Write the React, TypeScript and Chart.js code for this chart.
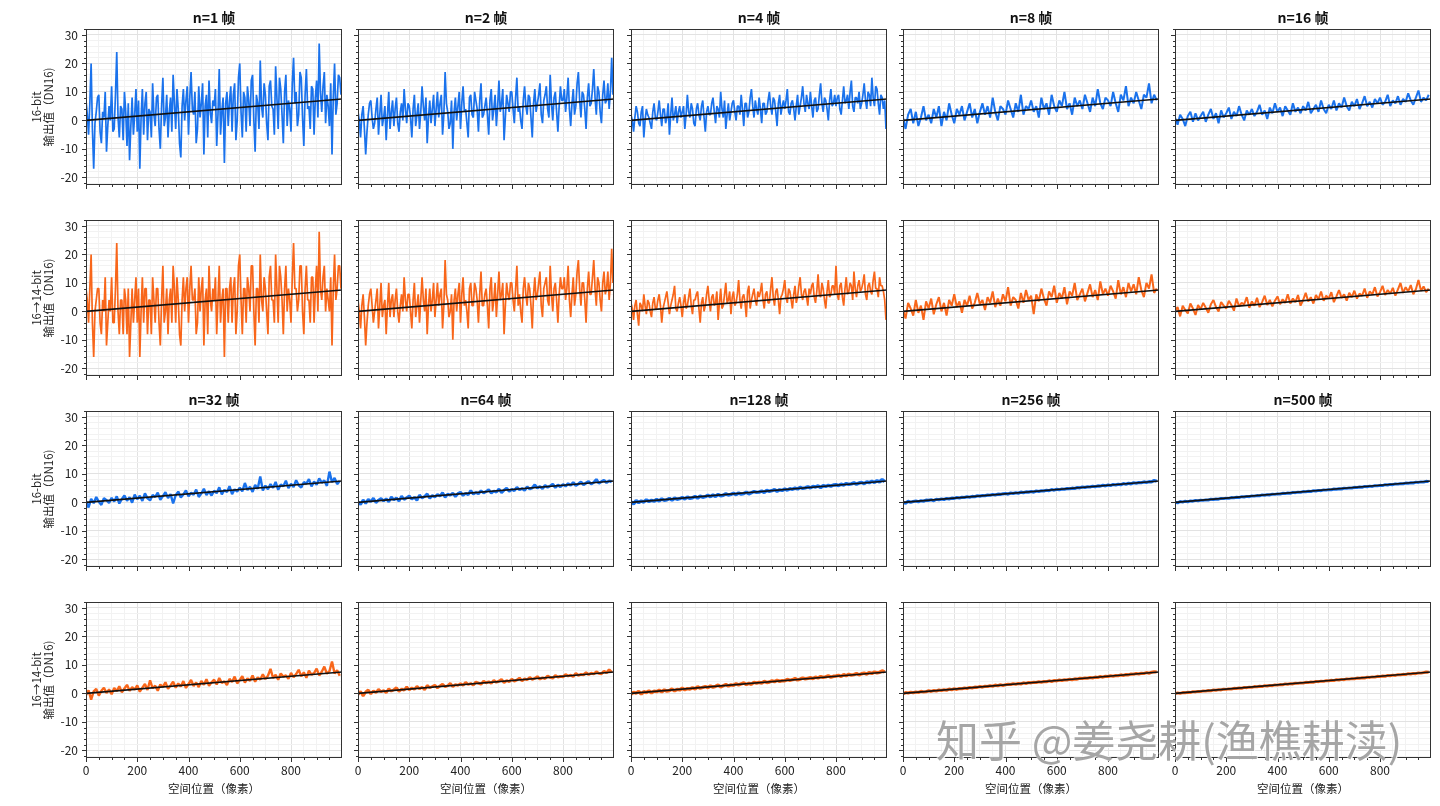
import React, { useEffect, useRef } from "react";
import { Chart, registerables } from "chart.js";

Chart.register(...registerables);

const FONT = "'Noto Sans CJK SC', 'Noto Sans', sans-serif";
const BLUE = "#1a72ec";
const ORANGE = "#f8661a";

// sample positions along the line (pixels): fine for the noisiest panels
const xFine = Array.from({ length: 200 }, (_, i) => i * 5);
const xCoarse = Array.from({ length: 100 }, (_, i) => i * 10);
// fitted line end points
const fitX = [0, 999];
const fitY = [0, 7.5];

const xTickLabels = [0, 200, 400, 600, 800];
const yTickLabels = [-20, -10, 0, 10, 20, 30];
const xMinorTicks = Array.from({ length: 20 }, (_, i) => i * 50);
const yMinorTicks = Array.from({ length: 28 }, (_, i) => -22 + i * 2);

// 16-bit
const blue1 = [
  7, 2, -5, 6, 20, -3, -17, -1, 3, 8, 9, -4, -8, 3, 1, 10, -11, -2, 5, 0,
  12, -4, -3, 9, 24, 1, -6, 5, 4, -7, 10, 3, -9, 6, -14, -2, 8, -5, 2, 11,
  -4, 7, -17, 1, 11, -5, 6, 10, -7, 4, 3, -6, 13, 2, -2, 8, 9, -3, -10, 5,
  15, -2, 1, 9, -6, 3, 8, -4, 16, 6, -3, 11, 4, -8, -13, 5, 11, 0, 7, 12,
  -5, 8, 17, 4, 2, 10, -8, -3, 12, 1, 6, 13, -12, 5, 9, -6, 14, 3, -1, 7,
  5, 11, -9, 2, 18, -5, 3, 8, -15, 6, 10, -2, 7, 12, -4, 9, 13, -7, 0, 15,
  20, 3, -6, 10, 8, -4, 12, 7, -2, 14, 16, 0, -11, 9, 6, -3, 21, 5, 1, 13,
  9, -1, -7, 12, 14, 5, 4, -5, 19, 8, -3, 15, 11, 2, -8, 10, 16, -2, 7, 4,
  -4, 13, 22, 6, 10, -2, 2, 17, 15, 1, -9, 9, 18, 4, 5, -3, 12, 11, -5, 8,
  14, 1, 27, 10, 3, 12, 17, -1, 9, 5, -2, 13, -12, 8, 20, 2, 6, 16, 15, 9,
];
const blue2 = [
  3, 0, -6, 2, 5, -3, -12, -4, 2, 6, 7, 1, -3, -1, 4, 8, -5, 2, 9, -2,
  1, 5, -7, 2, 10, -3, 3, 7, -2, 4, 8, -1, -4, 3, 6, 0, 11, 4, -1, 6,
  5, 1, -6, 4, 9, -2, 2, 6, -3, 3, 12, 5, 0, 8, -8, 1, 7, -1, 4, 9,
  -2, 4, 10, 1, 6, 9, -5, 2, 17, 6, 3, -3, -1, 7, -10, 3, 8, 0, 5, 10,
  -3, 6, 12, 3, 4, -1, -6, 8, 9, 2, 1, 10, 7, 4, -4, 7, 13, 1, 2, 5,
  8, 2, -5, 7, 11, 0, 4, 9, -2, 5, 14, 3, 6, 11, -7, 1, 9, 6, 3, 10,
  10, 4, -1, 8, 15, 3, 5, 0, -3, 7, 12, 5, 2, 9, 8, 1, -6, 6, 11, 3,
  6, 9, 13, 2, -1, 7, 9, 12, 4, 1, 16, 6, 0, 8, 10, 3, -4, 5, 12, 7,
  7, 11, 3, 8, 15, 4, -2, 6, 11, 2, 5, 13, 17, 7, 1, 10, 9, 4, -3, 8,
  13, 5, 6, 11, 18, 8, 2, 12, 10, 3, -1, 9, 14, 6, 7, 13, 4, 10, 22, 9,
];
const blue4 = [
  2, 0, -4, 1, 5, 3, -1, -2, 3, 5, -6, 0, 4, 2, 1, -1, -3, 3, 6, 1,
  0, 3, 7, 2, -2, 4, 4, -1, 1, 6, -5, 2, 8, 0, 2, 5, -1, 3, 5, 1,
  3, 5, -3, 2, 9, 3, 1, 6, 4, -1, -2, 4, 6, 2, 0, 5, 7, 1, -4, 3,
  5, 2, 2, 6, 8, 3, -1, 5, 4, 1, 10, 4, 1, 7, -3, 2, 6, 0, 3, 6,
  7, 3, 0, 5, 5, 2, 9, 4, -2, 6, 6, 1, 3, 8, 11, 5, 1, 7, 4, 2,
  8, 4, -1, 6, 6, 2, 3, 7, 10, 5, 2, 8, 7, 3, -2, 6, 9, 2, 5, 7,
  4, 7, 11, 3, 2, 6, 7, 4, 0, 5, 9, 2, 5, 8, 12, 6, 3, 9, 6, 4,
  10, 5, 1, 7, 8, 3, 4, 9, 13, 6, 3, 8, 7, 4, 0, 7, 11, 5, 6, 9,
  5, 8, 9, 4, 2, 7, 12, 6, 7, 9, 4, 10, 14, 5, 3, 8, 8, 6, 10, 4,
  6, 9, 13, 7, 4, 10, 9, 5, 15, 8, 5, 12, 11, 6, 2, 9, 8, 4, 7, -3,
];
const blue8 = [
  1, -3, 2, 4, -1, 3, -2, 1, 5, 0,
  2, -1, 4, 1, 5, -2, 3, 0, 6, 2,
  -1, 4, 2, 5, 0, 3, 6, 1, 4, -1,
  3, 6, 2, 5, 1, 8, 3, 0, 5, 4,
  2, 7, 4, 1, 6, 3, 9, 2, 5, 4,
  7, 3, 5, 1, 8, 4, 6, 2, 9, 5,
  3, 7, 5, 10, 4, 6, 2, 8, 5, 7,
  4, 9, 6, 3, 8, 5, 11, 6, 4, 8,
  7, 5, 10, 6, 3, 9, 7, 12, 5, 8,
  6, 10, 7, 4, 9, 8, 13, 6, 9, 7,
];
const blue16 = [
  1, -1.5, 2, 0.5, -2, 1.5, 3, -0.5, 2.5, 0,
  1.5, 3, -0.5, 2, 4, 0.5, 2.5, -1, 3.5, 1,
  2.5, 4.5, 0.5, 3, 1.5, 5, 2, 0, 3.5, 2,
  4, 1.5, 3, 5.5, 2, 3.5, 0.5, 4.5, 2.5, 6,
  3, 4.5, 1.5, 5, 3.5, 2, 6, 3, 4.5, 2.5,
  5, 3.5, 6.5, 2.5, 4, 5.5, 3, 7, 4, 2.5,
  5.5, 4, 7, 3.5, 6, 4.5, 8, 5, 3.5, 6.5,
  5, 7.5, 4, 6, 8.5, 5, 6.5, 4.5, 7.5, 6,
  8, 5.5, 6.5, 9, 5, 7, 6, 8.5, 5.5, 7.5,
  6.5, 9.5, 7, 5.5, 8, 10.5, 6.5, 8, 7, 9,
];
const blue32 = [
  0.4, -1.8, 1.2, -0.3, 1.9, 0.2, -0.9, 1.5, 0.8, -0.2,
  1.6, 0.3, 2.1, -0.4, 1.2, 2.4, 0.6, 1.8, -0.1, 2.7,
  1.1, 2.3, 0.5, 3.2, 1.4, 0.7, 2.6, 1.9, 3.4, 0.9,
  2.2, 3.6, 1.5, 2.9, -0.4, 2.5, 3.8, 1.7, 2.8, 4.2,
  2.1, 3.4, 2.7, 4.5, 1.9, 3.1, 4.8, 2.6, 3.9, 2.4,
  4.1, 3.2, 5.3, 2.8, 4.4, 3.6, 5.7, 2.9, 4.6, 3.8,
  5.2, 3.9, 6.8, 4.3, 5.5, 3.7, 6.1, 4.8, 9.1, 4.2,
  5.9, 4.6, 6.4, 5.1, 7.2, 4.4, 6.3, 5.7, 7.6, 5.0,
  6.5, 5.4, 7.8, 6.0, 5.2, 7.1, 6.6, 8.2, 5.6, 7.3,
  6.2, 8.4, 6.9, 7.7, 5.8, 10.8, 7.1, 8.6, 6.4, 7.5,
];
const blue64 = [
  0.3, -0.8, 0.9, -0.4, 1.1, 0.2, 1.5, -0.1, 0.8, 1.4,
  0.5, 1.3, 0.2, 1.9, 0.9, 1.6, 0.4, 2.2, 1.0, 1.7,
  2.3, 1.1, 1.8, 0.7, 2.6, 1.5, 2.1, 3.0, 1.4, 2.4,
  1.9, 2.8, 2.2, 3.4, 1.8, 2.9, 2.5, 3.3, 2.0, 3.1,
  3.6, 2.4, 3.2, 2.7, 4.2, 2.9, 3.5, 3.0, 4.1, 3.3,
  3.8, 4.5, 3.2, 4.0, 3.6, 4.7, 3.4, 4.3, 5.0, 3.9,
  4.6, 4.1, 5.3, 4.4, 4.9, 4.2, 5.5, 4.7, 5.1, 6.2,
  5.0, 5.6, 4.8, 6.0, 5.3, 5.8, 6.4, 5.2, 6.1, 5.5,
  6.3, 5.7, 6.6, 6.0, 7.0, 5.9, 6.5, 7.2, 6.2, 6.8,
  7.4, 6.4, 7.0, 8.1, 6.7, 7.3, 7.8, 6.9, 7.6, 7.2,
];
const blue128 = [
  0.2, -0.5, 0.6, -0.1, 0.5, 0.1, 0.9, 0.3, 0.7, 0.4,
  1.0, 0.5, 1.2, 0.7, 0.9, 1.4, 0.8, 1.5, 1.1, 1.3,
  1.7, 1.2, 1.9, 1.4, 1.6, 2.1, 1.5, 2.2, 1.8, 2.0,
  2.5, 2.0, 2.6, 2.1, 2.8, 2.3, 2.5, 3.0, 2.6, 2.8,
  3.2, 2.7, 3.3, 2.9, 3.1, 3.6, 3.0, 3.4, 3.8, 3.5,
  3.6, 4.0, 3.5, 4.2, 3.9, 4.1, 4.5, 3.9, 4.4, 4.2,
  4.7, 4.3, 4.8, 4.6, 5.0, 4.7, 5.3, 4.9, 5.1, 5.5,
  5.1, 5.6, 5.4, 5.8, 5.2, 5.9, 5.6, 6.0, 5.7, 6.1,
  6.2, 5.9, 6.4, 6.1, 6.6, 6.3, 6.5, 6.9, 6.4, 6.8,
  7.0, 6.6, 7.2, 6.9, 7.4, 7.0, 7.6, 7.2, 8.0, 7.3,
];
const blue256 = [
  0.1, -0.3, 0.4, 0.0, 0.3, 0.5, 0.2, 0.6, 0.4, 0.8,
  0.7, 0.9, 0.6, 1.1, 0.9, 1.2, 1.0, 1.4, 1.2, 1.5,
  1.4, 1.7, 1.5, 1.8, 1.7, 2.0, 1.8, 2.1, 2.0, 2.3,
  2.2, 2.4, 2.3, 2.6, 2.5, 2.8, 2.6, 2.9, 2.8, 3.0,
  3.1, 2.9, 3.3, 3.1, 3.4, 3.2, 3.6, 3.4, 3.7, 3.6,
  3.8, 3.6, 4.0, 3.8, 4.1, 4.0, 4.3, 4.1, 4.5, 4.3,
  4.6, 4.4, 4.7, 4.6, 4.9, 4.8, 5.0, 4.9, 5.2, 5.1,
  5.4, 5.2, 5.5, 5.4, 5.7, 5.5, 5.8, 5.7, 6.0, 5.8,
  6.1, 5.9, 6.3, 6.1, 6.4, 6.2, 6.6, 6.4, 6.7, 6.5,
  6.9, 6.7, 7.0, 6.9, 7.2, 7.0, 7.3, 7.2, 7.7, 7.4,
];
const blue500 = [
  0.1, -0.2, 0.3, 0.1, 0.4, 0.2, 0.5, 0.4, 0.7, 0.5,
  0.8, 0.7, 0.9, 0.8, 1.1, 1.0, 1.2, 1.1, 1.4, 1.3,
  1.5, 1.4, 1.7, 1.6, 1.8, 1.7, 2.0, 1.9, 2.1, 2.0,
  2.3, 2.2, 2.4, 2.3, 2.6, 2.5, 2.7, 2.6, 2.9, 2.8,
  3.0, 2.9, 3.2, 3.1, 3.3, 3.2, 3.5, 3.4, 3.6, 3.5,
  3.8, 3.7, 3.9, 3.8, 4.1, 4.0, 4.2, 4.1, 4.4, 4.3,
  4.5, 4.4, 4.7, 4.6, 4.8, 4.7, 5.0, 4.9, 5.1, 5.0,
  5.3, 5.2, 5.4, 5.3, 5.6, 5.5, 5.7, 5.6, 5.9, 5.8,
  6.0, 5.9, 6.2, 6.1, 6.3, 6.2, 6.5, 6.4, 6.6, 6.5,
  6.8, 6.7, 6.9, 6.8, 7.1, 7.0, 7.2, 7.1, 7.4, 7.3,
];

// 16 -> 14-bit
const orange1 = [
  8, 4, -4, 8, 20, -4, -16, 0, 4, 8, 8, -4, -8, 4, 0, 12, -12, -4, 4, 0,
  12, -4, -4, 8, 24, 0, -8, 4, 4, -8, 8, 4, -8, 8, -16, -4, 8, -4, 4, 12,
  -4, 8, -16, 0, 12, -4, 8, 8, -8, 4, 4, -8, 12, 4, -4, 8, 8, -4, -12, 4,
  16, -4, 0, 8, -8, 4, 8, -4, 16, 8, -4, 12, 4, -8, -12, 4, 12, 0, 8, 12,
  -4, 8, 16, 4, 4, 8, -8, -4, 12, 0, 8, 12, -12, 4, 8, -8, 16, 4, 0, 8,
  4, 12, -8, 4, 16, -4, 4, 8, -16, 8, 8, -4, 8, 12, -4, 8, 12, -8, 0, 16,
  20, 4, -8, 8, 8, -4, 12, 8, 0, 16, 16, 0, -12, 8, 8, -4, 20, 4, 0, 12,
  8, 0, -8, 12, 16, 4, 4, -4, 20, 8, -4, 16, 12, 4, -8, 8, 16, 0, 8, 4,
  -4, 12, 24, 8, 8, 0, 4, 16, 16, 0, -8, 8, 16, 4, 4, -4, 12, 12, -4, 8,
  16, 0, 28, 8, 4, 12, 16, 0, 8, 4, 0, 12, -12, 8, 20, 4, 8, 16, 16, 8,
];
const orange2 = [
  4, 0, -6, 2, 6, -2, -12, -4, 2, 6, 8, 2, -4, 0, 4, 8, -6, 2, 10, -2,
  2, 4, -8, 2, 10, -2, 4, 6, -2, 4, 8, 0, -4, 2, 6, 0, 12, 4, 0, 6,
  6, 0, -6, 4, 10, -2, 2, 6, -4, 4, 12, 4, 0, 8, -8, 2, 8, 0, 4, 10,
  -2, 4, 10, 2, 6, 8, -6, 2, 18, 6, 4, -2, 0, 6, -10, 4, 8, 0, 6, 10,
  -4, 6, 12, 2, 4, 0, -6, 8, 10, 2, 2, 10, 8, 4, -4, 6, 14, 2, 2, 6,
  8, 2, -6, 8, 12, 0, 4, 10, -2, 6, 14, 4, 6, 10, -8, 2, 10, 6, 4, 10,
  10, 4, 0, 8, 16, 2, 6, 0, -4, 8, 12, 6, 2, 10, 8, 2, -6, 6, 12, 4,
  6, 10, 14, 2, -2, 8, 10, 12, 4, 2, 16, 6, 0, 8, 10, 4, -4, 6, 12, 8,
  8, 12, 4, 8, 16, 4, -2, 6, 12, 2, 6, 14, 18, 8, 2, 10, 10, 4, -4, 8,
  14, 6, 6, 12, 18, 8, 2, 12, 10, 4, 0, 10, 14, 6, 8, 14, 4, 10, 22, 10,
];
const orange4 = [
  3, 1, -3, 2, 4, -1, -5, 3, 2, 0, 6, 2, -1, 4, 3, 0, -2, 3, 5, 1,
  1, 4, 6, 2, -4, 1, 3, 5, 7, 3, -1, 2, 4, 6, 9, 1, 0, 3, 5, 2,
  -2, 3, 6, 1, 2, 5, 8, 2, -1, 4, 4, 6, 7, 1, -4, 3, 5, 0, 2, 6,
  9, 4, 0, 5, 6, 2, 3, 7, -3, 3, 8, 1, 2, 6, 10, 3, 4, 7, -1, 5,
  7, 2, 3, 6, 11, 4, 1, 5, 6, 3, -2, 7, 9, 1, 4, 6, 8, 4, 2, 7,
  5, 7, 10, 4, 1, 6, 7, 3, 3, 8, 12, 5, 2, 7, 8, 4, -1, 5, 6, 8,
  11, 5, 3, 8, 7, 4, 1, 6, 9, 3, 5, 9, 12, 6, 4, 7, 8, 5, 2, 8,
  6, 9, 10, 5, 3, 7, 13, 6, 5, 10, 8, 4, 1, 7, 11, 5, 6, 9, 9, 6,
  16, 6, 4, 9, 10, 5, 2, 8, 12, 6, 7, 10, 9, 4, 14, 8, 5, 9, 11, 7,
  8, 10, 13, 6, 4, 9, 10, 7, 6, 11, 14, 8, 8, 5, 12, 9, 9, 7, 4, -3,
];
const orange8 = [
  0.5, -2.5, 3, 1, -1.5, 4, -0.5, 2, -3, 3.5,
  1, 4.5, -1, 2.5, 5, 0, 3, -1.5, 4, 2,
  6, 1.5, 3.5, -0.5, 4, 2, 5.5, 1, 3, 6.5,
  2.5, 4, 0.5, 5, 3, 7, 1.5, 4.5, 2, 6,
  3.5, 8.5, 2, 5, 4, 1, 6.5, 3, 7.5, 4,
  5.5, -1, 6, 3.5, 8, 4.5, 2, 7, 5, 9,
  3, 6.5, 4.5, 8.5, 2.5, 7, 5.5, 10, 4, 6,
  8, 3.5, 6.5, 9.5, 5, 7.5, 4, 10.5, 6, 8,
  5.5, 9, 7, 4.5, 11, 6, 8.5, 5, 10, 7,
  9.5, 6, 12, 7.5, 5, 10, 8, 13, 6.5, 8,
];
const orange16 = [
  0.25, 1.5, -1.75, 2, 0.5, -0.75, 2.75, 1, -1.25, 2.25,
  0.75, 3, 1.25, -0.5, 2.5, 4, 1.5, 0, 3.25, 2,
  1, 3.75, 2.25, 0.25, 4.5, 1.75, 3, 2.5, 5, 1.25,
  3.5, 2, 4.75, 1.5, 3.25, 5.5, 2.25, 4, 1.75, 3.75,
  5.25, 2.5, 4.25, 3, 6, 2.75, 4.5, 3.25, 5.75, 2,
  4, 6.5, 3.5, 5, 2.75, 5.75, 4.25, 7, 3.75, 5.5,
  4.5, 6.75, 3.25, 5.25, 7.5, 4.75, 6, 3.75, 6.5, 5,
  7.25, 4.5, 6.25, 5.5, 8, 4.75, 7, 6, 8.5, 5.25,
  6.75, 9, 5.75, 7.5, 6.25, 8.25, 5.5, 7.75, 10, 6.5,
  8.5, 7, 9.25, 6, 7.75, 11, 7.25, 8.75, 6.75, 8,
];
const orange32 = [
  -0.6, 1.1, -2.2, 0.7, 1.6, -0.8, 0.9, 2.0, 0.1, 1.4,
  -0.3, 1.9, 0.8, 2.5, 0.4, 1.7, 3.0, 0.9, 2.2, 1.3,
  2.8, 0.6, 2.0, 3.3, 1.2, 4.6, 1.8, 2.7, 0.9, 3.1,
  2.3, 3.9, 1.6, 2.8, 4.1, 2.0, 3.5, 2.4, 4.3, 1.9,
  3.3, 4.7, 2.6, 3.8, 2.2, 4.4, 3.0, 5.0, 2.7, 3.9,
  4.8, 3.1, 5.4, 3.7, 4.2, 2.9, 5.1, 4.0, 5.9, 3.5,
  4.7, 6.0, 3.8, 5.3, 4.4, 6.3, 4.1, 5.6, 4.9, 6.7,
  5.0, 6.2, 8.6, 5.4, 6.5, 4.8, 7.0, 5.9, 6.3, 5.1,
  7.2, 5.7, 6.8, 8.3, 6.0, 7.4, 5.5, 8.0, 6.6, 7.1,
  8.7, 6.3, 7.6, 9.4, 6.9, 7.8, 11.2, 7.0, 8.1, 6.2,
];
const orange64 = [
  -0.4, 0.7, -0.9, 0.5, 1.2, -0.2, 0.9, 0.3, 1.4, 0.6,
  1.0, 0.2, 1.6, 0.8, 1.3, 2.0, 0.7, 1.5, 1.1, 2.3,
  1.2, 1.9, 1.4, 2.5, 1.6, 2.2, 1.3, 2.8, 2.0, 2.4,
  2.9, 1.9, 2.6, 3.2, 2.3, 2.7, 3.5, 2.4, 3.1, 2.8,
  3.4, 2.8, 3.9, 3.1, 3.5, 2.9, 4.0, 3.6, 3.2, 4.3,
  3.7, 4.1, 3.5, 4.6, 3.9, 4.3, 4.9, 3.8, 4.5, 4.1,
  5.0, 4.3, 4.7, 5.4, 4.4, 5.1, 4.8, 5.6, 4.9, 5.3,
  5.9, 5.0, 5.5, 5.2, 6.1, 5.6, 5.3, 6.3, 5.7, 6.0,
  5.8, 6.6, 6.1, 6.4, 5.9, 7.0, 6.3, 6.7, 6.5, 7.3,
  6.6, 7.1, 6.8, 7.6, 7.0, 6.9, 7.8, 7.2, 8.3, 7.4,
];
const orange128 = [
  -0.3, 0.4, 0.1, 0.7, -0.2, 0.6, 0.3, 0.9, 0.2, 0.8,
  0.6, 1.1, 0.5, 1.2, 0.8, 1.0, 1.5, 0.9, 1.4, 1.2,
  1.8, 1.3, 1.7, 1.5, 2.0, 1.6, 2.3, 1.8, 2.1, 2.4,
  2.0, 2.6, 2.2, 2.5, 2.9, 2.3, 2.7, 3.1, 2.6, 3.0,
  2.8, 3.4, 3.0, 3.3, 3.7, 3.1, 3.5, 3.2, 3.9, 3.6,
  3.9, 3.6, 4.2, 3.8, 4.0, 4.4, 4.1, 4.6, 4.2, 4.5,
  4.4, 4.9, 4.6, 4.8, 5.2, 4.7, 5.0, 5.4, 5.1, 5.3,
  5.5, 5.2, 5.7, 5.4, 5.9, 5.6, 5.8, 6.2, 5.7, 6.0,
  6.1, 6.3, 6.0, 6.6, 6.2, 6.7, 6.4, 6.6, 7.0, 6.5,
  6.9, 7.1, 6.8, 7.3, 7.0, 7.5, 7.2, 7.4, 7.9, 7.5,
];
const orange256 = [
  -0.2, 0.3, 0.1, 0.4, 0.2, 0.5, 0.3, 0.7, 0.5, 0.6,
  0.9, 0.7, 1.0, 0.8, 1.2, 1.0, 1.3, 1.1, 1.5, 1.3,
  1.6, 1.4, 1.7, 1.6, 1.9, 1.7, 2.1, 1.9, 2.2, 2.1,
  2.4, 2.2, 2.5, 2.4, 2.7, 2.5, 2.9, 2.7, 3.0, 2.8,
  3.0, 3.2, 3.1, 3.4, 3.2, 3.5, 3.3, 3.7, 3.5, 3.8,
  3.7, 3.9, 3.8, 4.1, 3.9, 4.2, 4.1, 4.4, 4.2, 4.5,
  4.4, 4.7, 4.5, 4.8, 4.7, 5.0, 4.8, 5.1, 5.0, 5.3,
  5.2, 5.4, 5.3, 5.6, 5.4, 5.7, 5.6, 5.9, 5.7, 6.0,
  5.9, 6.2, 6.0, 6.3, 6.2, 6.5, 6.3, 6.6, 6.5, 6.8,
  6.7, 7.0, 6.8, 7.1, 7.0, 7.3, 7.1, 7.4, 7.6, 7.5,
];
const orange500 = [
  -0.1, 0.2, 0.0, 0.3, 0.2, 0.4, 0.3, 0.6, 0.5, 0.7,
  0.6, 0.9, 0.8, 1.0, 0.9, 1.2, 1.1, 1.3, 1.2, 1.5,
  1.4, 1.6, 1.5, 1.8, 1.7, 1.9, 1.8, 2.1, 2.0, 2.2,
  2.1, 2.4, 2.3, 2.5, 2.4, 2.7, 2.6, 2.8, 2.7, 3.0,
  2.9, 3.1, 3.0, 3.3, 3.2, 3.4, 3.3, 3.6, 3.5, 3.7,
  3.6, 3.9, 3.8, 4.0, 3.9, 4.2, 4.1, 4.3, 4.2, 4.5,
  4.4, 4.6, 4.5, 4.8, 4.7, 4.9, 4.8, 5.1, 5.0, 5.2,
  5.1, 5.4, 5.3, 5.5, 5.4, 5.7, 5.6, 5.8, 5.7, 6.0,
  5.9, 6.1, 6.0, 6.3, 6.2, 6.4, 6.3, 6.6, 6.5, 6.7,
  6.6, 6.9, 6.8, 7.0, 6.9, 7.2, 7.1, 7.3, 7.5, 7.4,
];

const colLeft = [86, 358, 631, 903, 1175];
const rowTop = [29, 220, 411, 602];
const PLOT_W = 256;
const PLOT_H = 156;
const TOP_SPACE = 29;

type PanelDef = {
  row: number;
  col: number;
  n: number;
  xs: number[];
  values: number[];
  color: string;
  width: number;
};

const panels: PanelDef[] = [
  { row: 0, col: 0, n: 1, xs: xFine, values: blue1, color: BLUE, width: 1.7 },
  { row: 0, col: 1, n: 2, xs: xFine, values: blue2, color: BLUE, width: 1.7 },
  { row: 0, col: 2, n: 4, xs: xFine, values: blue4, color: BLUE, width: 1.7 },
  { row: 0, col: 3, n: 8, xs: xCoarse, values: blue8, color: BLUE, width: 2 },
  { row: 0, col: 4, n: 16, xs: xCoarse, values: blue16, color: BLUE, width: 2 },
  { row: 1, col: 0, n: 1, xs: xFine, values: orange1, color: ORANGE, width: 1.7 },
  { row: 1, col: 1, n: 2, xs: xFine, values: orange2, color: ORANGE, width: 1.7 },
  { row: 1, col: 2, n: 4, xs: xFine, values: orange4, color: ORANGE, width: 1.7 },
  { row: 1, col: 3, n: 8, xs: xCoarse, values: orange8, color: ORANGE, width: 2 },
  { row: 1, col: 4, n: 16, xs: xCoarse, values: orange16, color: ORANGE, width: 2 },
  { row: 2, col: 0, n: 32, xs: xCoarse, values: blue32, color: BLUE, width: 2.4 },
  { row: 2, col: 1, n: 64, xs: xCoarse, values: blue64, color: BLUE, width: 2.8 },
  { row: 2, col: 2, n: 128, xs: xCoarse, values: blue128, color: BLUE, width: 3.4 },
  { row: 2, col: 3, n: 256, xs: xCoarse, values: blue256, color: BLUE, width: 3.1 },
  { row: 2, col: 4, n: 500, xs: xCoarse, values: blue500, color: BLUE, width: 2.9 },
  { row: 3, col: 0, n: 32, xs: xCoarse, values: orange32, color: ORANGE, width: 2.4 },
  { row: 3, col: 1, n: 64, xs: xCoarse, values: orange64, color: ORANGE, width: 2.8 },
  { row: 3, col: 2, n: 128, xs: xCoarse, values: orange128, color: ORANGE, width: 3.4 },
  { row: 3, col: 3, n: 256, xs: xCoarse, values: orange256, color: ORANGE, width: 3.1 },
  { row: 3, col: 4, n: 500, xs: xCoarse, values: orange500, color: ORANGE, width: 2.9 },
];

// frame round the plot and outward major/minor tick marks
const frameTicks = {
  id: "frameTicks",
  afterDraw(chart: any) {
    const { ctx, chartArea: a, scales } = chart;
    ctx.save();
    ctx.strokeStyle = "#333";
    ctx.lineWidth = 1;
    ctx.beginPath();
    scales.x.ticks.forEach((t: any) => {
      const px = Math.round(scales.x.getPixelForValue(t.value)) + 0.5;
      const len = xTickLabels.includes(t.value) ? 4 : 2;
      ctx.moveTo(px, a.bottom);
      ctx.lineTo(px, a.bottom + len);
    });
    scales.y.ticks.forEach((t: any) => {
      const py = Math.round(scales.y.getPixelForValue(t.value)) + 0.5;
      const len = yTickLabels.includes(t.value) ? 4 : 2;
      ctx.moveTo(a.left, py);
      ctx.lineTo(a.left - len, py);
    });
    ctx.stroke();
    ctx.strokeRect(a.left + 0.5, a.top + 0.5, a.right - a.left - 1, a.bottom - a.top - 1);
    ctx.restore();
  },
};

const noPadding = (s: any) => {
  s.paddingTop = 0;
  s.paddingBottom = 0;
  s.paddingLeft = 0;
  s.paddingRight = 0;
};

const Panel = ({ p }: { p: PanelDef }) => {
  const ref = useRef<HTMLCanvasElement | null>(null);

  const left = p.col === 0 ? 0 : colLeft[p.col] - 10;
  const yw = colLeft[p.col] - left;
  const xh = p.row === 3 ? 48 : 6;
  const width = yw + PLOT_W + 4;
  const height = TOP_SPACE + PLOT_H + xh;
  const top = rowTop[p.row] - TOP_SPACE;
  const withTitle = p.row === 0 || p.row === 2;

  useEffect(() => {
    if (!ref.current) return;
    const chart = new Chart(ref.current, {
      type: "line",
      data: {
        datasets: [
          {
            data: fitX.map((x, i) => ({ x, y: fitY[i] })),
            borderColor: "#111",
            borderWidth: 1.6,
            pointRadius: 0,
            order: 0,
          },
          {
            data: p.xs.map((x, i) => ({ x, y: p.values[i] })),
            borderColor: p.color,
            borderWidth: p.width,
            borderJoinStyle: "bevel",
            pointRadius: 0,
            order: 1,
          },
        ],
      },
      options: {
        responsive: false,
        animation: false,
        events: [],
        layout: { padding: { top: withTitle ? 0 : TOP_SPACE, right: 4, left: 0, bottom: 0 } },
        plugins: {
          legend: { display: false },
          tooltip: { enabled: false },
          title: {
            display: withTitle,
            text: `n=${p.n} 帧`,
            fullSize: false,
            color: "#111",
            font: { family: FONT, size: 14, weight: "bold", lineHeight: 1.2 },
            padding: { top: 9, bottom: 3.2 },
          },
        },
        scales: {
          x: {
            type: "linear",
            bounds: "data",
            min: 0,
            max: 999,
            afterBuildTicks: (s: any) => {
              s.ticks = xMinorTicks.map((v) => ({ value: v }));
            },
            afterFit: (s: any) => {
              s.height = xh;
              noPadding(s);
            },
            border: { display: false },
            grid: {
              drawTicks: false,
              lineWidth: 1,
              color: (c: any) =>
                c.tick && xTickLabels.includes(c.tick.value) ? "#e2e2e2" : "#f2f2f2",
            },
            ticks: {
              display: p.row === 3,
              autoSkip: false,
              maxRotation: 0,
              minRotation: 0,
              padding: 5,
              color: "#222",
              font: { family: FONT, size: 12 },
              callback: (v: any) => (xTickLabels.includes(Number(v)) ? String(v) : ""),
            },
            title: {
              display: p.row === 3,
              text: "空间位置（像素）",
              color: "#222",
              font: { family: FONT, size: 11.5, lineHeight: 1.2 },
              padding: { top: 0, bottom: 10 },
            },
          },
          y: {
            type: "linear",
            bounds: "data",
            min: -22.7,
            max: 32.1,
            afterBuildTicks: (s: any) => {
              s.ticks = yMinorTicks.map((v) => ({ value: v }));
            },
            afterFit: (s: any) => {
              s.width = yw;
              noPadding(s);
            },
            border: { display: false },
            grid: {
              drawTicks: false,
              lineWidth: 1,
              color: (c: any) =>
                c.tick && yTickLabels.includes(c.tick.value) ? "#e2e2e2" : "#f2f2f2",
            },
            ticks: {
              display: p.col === 0,
              autoSkip: false,
              padding: 8,
              color: "#222",
              font: { family: FONT, size: 12 },
              callback: (v: any) => (yTickLabels.includes(Number(v)) ? String(v) : ""),
            },
            title: {
              display: p.col === 0,
              text: [p.row % 2 === 0 ? "16-bit" : "16→14-bit", "输出值（DN16)"],
              color: "#222",
              font: { family: FONT, size: 11.5, lineHeight: 1.1 },
              padding: { top: 30, bottom: 0 },
            },
          },
        },
      },
      plugins: [frameTicks],
    } as any);
    return () => {
      chart.destroy();
    };
  }, [p]);

  return (
    <canvas
      ref={ref}
      width={width}
      height={height}
      style={{ position: "absolute", left, top, width, height }}
    />
  );
};

const App = () => {
  return (
    <div
      style={{
        position: "absolute",
        left: 0,
        top: 0,
        width: 1440,
        height: 806,
        background: "#fff",
        overflow: "hidden",
      }}
    >
      {panels.map((p) => (
        <Panel key={`${p.row}-${p.col}`} p={p} />
      ))}
      <div
        style={{
          position: "absolute",
          left: 936,
          top: 712,
          fontFamily: FONT,
          fontSize: 43,
          color: "rgba(150,150,150,0.85)",
          textShadow: "1px 1px 0 rgba(255,255,255,0.9), -1px -1px 0 rgba(255,255,255,0.6)",
          whiteSpace: "nowrap",
          lineHeight: "52px",
          pointerEvents: "none",
        }}
      >
        知乎 @姜尧耕(渔樵耕渎)
      </div>
    </div>
  );
};

export default App;
